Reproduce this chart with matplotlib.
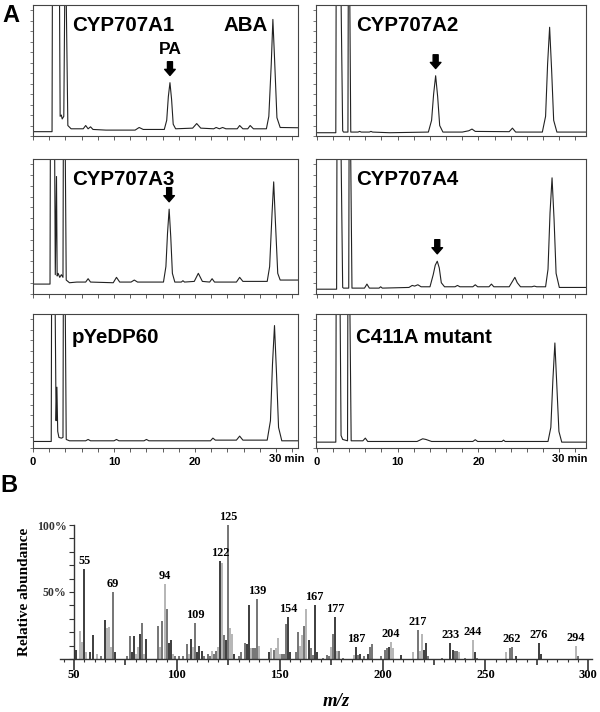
import numpy as np
import matplotlib
matplotlib.use('Agg')
import matplotlib.pyplot as plt
from matplotlib.ticker import MultipleLocator, FixedLocator

SANS = 'Liberation Sans'
SERIF = 'Liberation Serif'

# ---- Panel A: HPLC traces (retention time [min], signal [% of panel height]) ----
t1 = [0, 2.35, 2.4, 3.25, 3.35, 3.5, 3.6, 3.8, 3.95, 4.05, 4.3, 4.7, 6.2, 6.5, 6.8, 7.1, 7.4, 9.0, 12.6, 13.1,
      13.6, 16.2, 16.5, 16.7, 16.9, 17.1, 17.3, 17.6, 19.7, 20.2, 20.7, 22.3, 22.6, 23.0, 23.4, 23.8, 25.2, 25.5, 25.9, 26.5,
      26.8, 27.2, 28.8, 29.1, 29.4, 29.6, 29.8, 30.1, 30.5, 32.7]
v1 = [3.3, 3.3, 130, 130, 15, 16, 13, 15, 130, 130, 8, 5.5, 5.5, 8, 5.5, 7, 5, 4.5, 4.5, 6.5,
      5, 5, 12, 30, 40.7, 28, 9, 5.5, 6, 9.5, 6, 5.5, 6.5, 5.5, 6.5, 5.5, 5.5, 8, 5.5, 5.5,
      8, 5.5, 5.5, 15, 55, 89, 60, 14, 6.5, 6.3]

t2 = [-0.2, 2.35, 2.4, 2.95, 3.2, 3.3, 3.85, 3.9, 4.05, 4.2, 5.1, 5.3, 5.5, 6.5, 6.7, 6.9, 9.0, 13.8, 14.2, 14.45,
      14.7, 14.95, 15.2, 15.6, 18.0, 18.8, 19.2, 19.6, 23.8, 24.2, 24.6, 27.9, 28.3, 28.55, 28.8, 29.05, 29.3, 29.7, 33.3]
v2 = [2.5, 2.5, 130, 130, 4, 3, 3, 130, 130, 3, 3, 3.5, 3, 3, 3.5, 3, 2.5, 3, 12, 32,
      46, 30, 8, 3, 3, 4, 5.3, 3.5, 3.3, 6, 3, 3, 15, 55, 83, 50, 12, 3, 3]

t3 = [0, 2.1, 2.15, 2.65, 2.75, 2.9, 2.98, 3.1, 3.3, 3.5, 3.7, 3.75, 3.95, 4.1, 4.5, 5.4, 6.5, 6.8, 7.1, 9.9,
      10.3, 10.7, 12.1, 12.5, 12.9, 13.8, 16.1, 16.4, 16.6, 16.8, 17.0, 17.2, 17.5, 18.3, 18.5, 18.7, 19.9, 20.4, 20.9, 21.8,
      22.1, 22.4, 25.1, 25.5, 25.9, 28.9, 29.2, 29.5, 29.7, 29.9, 30.2, 30.5, 32.7]
v3 = [7, 7, 130, 130, 14, 87, 13, 15, 12, 14, 12, 130, 130, 10, 8, 8.5, 8.5, 11, 8.5, 8,
      12, 8.5, 8.5, 10, 8.5, 8.5, 8.5, 20, 45, 62.7, 42, 15, 8.5, 8.5, 9.5, 8.5, 9, 15, 9, 8.5,
      11, 8.5, 8.5, 12, 9, 9, 20, 60, 83, 55, 15, 10, 10]

t4 = [-0.1, 2.45, 2.5, 2.95, 3.2, 3.3, 3.95, 4.0, 4.15, 4.35, 5.9, 6.2, 6.5, 7.7, 7.9, 8.1, 11.4, 11.8, 12.1, 12.5,
      12.9, 14.0, 14.4, 14.65, 14.9, 15.15, 15.4, 15.8, 17.1, 17.4, 17.7, 19.3, 19.6, 19.9, 21.3, 21.6, 21.9, 23.8, 24.2, 24.5,
      24.8, 25.2, 26.6, 26.9, 27.2, 28.3, 28.6, 28.85, 29.1, 29.35, 29.6, 30.0, 33.3]
v4 = [3.2, 3.2, 130, 130, 4.5, 4, 4, 130, 130, 4, 4, 7, 4, 4, 5, 4, 4.5, 6, 5.5, 6.5,
      5, 5, 14, 21, 24, 19, 8, 5, 5, 6, 5, 5, 6.5, 5, 5, 7, 5, 5, 9, 12,
      8, 5, 5, 5.5, 5, 5, 18, 60, 86, 55, 15, 4.5, 4.5]

t5 = [0, 2.25, 2.3, 2.7, 2.85, 2.95, 3.05, 3.2, 3.5, 3.7, 3.75, 3.95, 4.1, 4.5, 6.5, 6.8, 7.1, 10.0, 10.3, 10.6,
      13.7, 14.0, 14.3, 21.9, 22.2, 22.5, 25.1, 25.5, 25.9, 28.9, 29.3, 29.55, 29.8, 30.05, 30.3, 30.7, 32.7]
v5 = [4.5, 4.5, 130, 130, 20, 45, 12, 7.5, 7, 7.5, 130, 130, 6, 5, 5, 6, 5, 5, 6, 5,
      5, 6, 5, 5, 7, 5.5, 5.5, 8.5, 5.5, 5.5, 20, 62, 91, 55, 15, 5, 5]

t6 = [-0.1, 2.35, 2.4, 2.85, 3.0, 3.2, 3.8, 3.85, 4.05, 4.25, 5.7, 6.0, 6.3, 12.4, 13.1, 13.5, 14.2, 19.3, 19.6, 19.9,
      22.9, 23.1, 23.3, 28.6, 28.95, 29.2, 29.45, 29.7, 29.95, 30.3, 33.3]
v6 = [4, 4, 130, 130, 9, 6, 5, 130, 130, 5, 5, 7, 4.5, 4.5, 6.5, 6, 4.5, 4.5, 5.8, 4.5,
      4.5, 5.5, 4.5, 4.5, 15, 50, 78, 45, 12, 4, 4]

panel_names = ['CYP707A1', 'CYP707A2', 'CYP707A3', 'CYP707A4', 'pYeDP60', 'C411A mutant']
traces = [(t1, v1), (t2, v2), (t3, v3), (t4, v4), (t5, v5), (t6, v6)]
# PA peaks marked with arrows: (panel index, retention time, peak height)
pa_marks = [(0, 16.9, 40.7), (1, 14.7, 46), (2, 16.8, 62.7), (3, 14.9, 24)]
time_ticks = [0, 10, 20, 30]

# ---- Panel B: EI mass spectrum ----
mz = [51, 53, 54, 55, 56, 58, 59, 61, 63, 65, 66, 67, 68, 69, 70, 76, 77, 78, 79, 80,
      81, 82, 83, 84, 85, 91, 92, 93, 94, 95, 96, 97, 98, 99, 101, 103, 105, 106, 107, 108,
      109, 110, 111, 112, 113, 115, 116, 117, 118, 119, 120, 121, 122, 123, 124, 125, 126, 127, 128, 130,
      131, 133, 134, 135, 136, 137, 138, 139, 140, 145, 146, 147, 148, 149, 150, 151, 152, 153, 154, 155,
      158, 159, 160, 161, 162, 163, 164, 165, 166, 167, 168, 171, 173, 174, 175, 176, 177, 178, 179, 181,
      186, 187, 188, 189, 191, 193, 194, 195, 199, 201, 202, 203, 204, 205, 209, 215, 217, 218, 219, 220,
      221, 222, 229, 233, 234, 235, 236, 237, 240, 244, 245, 246, 260, 262, 263, 265, 276, 277, 294, 295]
rel = [7, 21, 13, 67, 5, 5, 18, 4, 2, 29, 23, 24, 9, 50, 5, 2, 17, 5, 17, 4,
       9, 19, 27, 4, 15, 25, 9, 28, 56, 37, 12, 14, 4, 2, 2, 2, 11, 4, 15, 9,
       27, 5, 10, 6, 2, 4, 2, 6, 4, 6, 9, 73, 72, 18, 14, 100, 23, 19, 4, 2,
       5, 12, 11, 40, 8, 8, 8, 45, 10, 5, 8, 7, 8, 16, 4, 4, 4, 26, 31, 5,
       5, 20, 10, 18, 25, 37, 14, 8, 3, 40, 5, 1, 3, 2, 9, 19, 31, 6, 6, 1,
       3, 9, 3, 4, 2, 4, 9, 11, 2, 7, 8, 9, 13, 8, 3, 5, 22, 6, 19, 7,
       12, 2, 1, 12, 7, 6, 6, 5, 1, 14, 5, 1, 5, 8, 9, 2, 12, 4, 10, 2]
shade = ['k', 'l', 'l', 'k', 'l', 'k', 'k', 'l', 'g', 'k', 'l', 'l', 'l', 'g', 'k', 'g', 'g', 'k', 'k', 'l',
         'l', 'k', 'g', 'l', 'k', 'g', 'l', 'g', 'l', 'g', 'k', 'k', 'l', 'g', 'g', 'g', 'g', 'l', 'k', 'l',
         'g', 'k', 'k', 'k', 'g', 'g', 'g', 'l', 'g', 'g', 'l', 'k', 'l', 'g', 'k', 'g', 'l', 'l', 'k', 'g',
         'g', 'g', 'k', 'k', 'l', 'g', 'g', 'g', 'l', 'k', 'l', 'g', 'l', 'l', 'l', 'g', 'g', 'g', 'k', 'k',
         'g', 'g', 'l', 'l', 'g', 'l', 'k', 'g', 'g', 'k', 'k', 'g', 'g', 'g', 'l', 'g', 'k', 'l', 'g', 'g',
         'l', 'k', 'g', 'k', 'g', 'k', 'g', 'g', 'g', 'g', 'g', 'k', 'l', 'l', 'k', 'l', 'g', 'l', 'l', 'k',
         'k', 'g', 'g', 'k', 'k', 'g', 'g', 'l', 'g', 'l', 'k', 'g', 'l', 'g', 'g', 'k', 'k', 'k', 'l', 'g']
peak_labels = [55, 69, 94, 109, 122, 125, 139, 154, 167, 177, 187, 204, 217, 233, 244, 262, 276, 294]

shade_colors = {'k': '#1c1c1c', 'g': '#5e5e5e', 'l': '#a9a9a9'}

fig = plt.figure(figsize=(6, 7.12), dpi=100)

col_x = [(33 / 600, 265 / 600), (316 / 600, 270 / 600)]
row_y = [(1 - 136 / 712, 131 / 712), (1 - 293.5 / 712, 134.5 / 712), (1 - 447.5 / 712, 134 / 712)]
xlims = [(0, 32.7), (-0.1, 33.3)]
name_y = [0.845, 0.845, 0.82]

axes_a = []
for i, (t, v) in enumerate(traces):
    row, col = i // 2, i % 2
    x0, w = col_x[col]
    y0, h = row_y[row]
    ax = fig.add_axes([x0, y0, w, h])
    ax.plot(t, v, color='#222222', lw=0.8)
    ax.set_xlim(*xlims[col])
    ax.set_ylim(0, 100)
    for s in ax.spines.values():
        s.set_color('#444444')
        s.set_linewidth(0.8)
    ax.xaxis.set_major_locator(FixedLocator(time_ticks))
    ax.xaxis.set_minor_locator(MultipleLocator(2))
    ax.yaxis.set_major_locator(MultipleLocator(8))
    ax.tick_params(axis='x', which='both', direction='out', length=3, width=0.6, colors='#444444')
    ax.tick_params(axis='y', which='major', direction='out', length=2, width=0.5, colors='#444444')
    ax.set_yticklabels([])
    if row == 2:
        ax.set_xticklabels(['0', '10', '20', ''], fontsize=8, fontweight='bold', family=SANS, color='black')
        ax.annotate('30 min', xy=(30, 0), xycoords=('data', 'axes fraction'), xytext=(-5, -4.5),
                    textcoords='offset points', ha='left', va='top', fontsize=8,
                    fontweight='bold', family=SANS)
    else:
        ax.set_xticklabels([])
    ax.text(0.147 if col == 0 else 0.15, name_y[row], panel_names[i], transform=ax.transAxes,
            fontsize=14.8, fontweight='bold', family=SANS, va='center', ha='left')
    axes_a.append(ax)

for idx, tt, top in pa_marks:
    axes_a[idx].annotate('', xy=(tt, top + 5.5), xytext=(tt, top + 16),
                         arrowprops=dict(arrowstyle='simple,head_length=0.55,head_width=0.95,tail_width=0.45',
                                         color='black', shrinkA=0, shrinkB=0, mutation_scale=8))
axes_a[0].text(16.9, 66, 'PA', fontsize=12.5, fontweight='bold', family=SANS, ha='center', va='center')
axes_a[0].text(0.717, 0.845, 'ABA', transform=axes_a[0].transAxes, fontsize=14.8,
               fontweight='bold', family=SANS, ha='left', va='center')

# ---- Panel B ----
axb = fig.add_axes([60 / 600, 1 - 659 / 712, 532 / 600, 134 / 712])
axb.vlines(mz, 0, rel, colors=[shade_colors[s] for s in shade], linewidth=1.2)
axb.set_xlim(43.2, 301.8)
axb.set_ylim(0, 100)
axb.spines['top'].set_visible(False)
axb.spines['right'].set_visible(False)
axb.spines['left'].set_position(('data', 50))
axb.spines['left'].set_bounds(0, 100)
axb.spines['left'].set_color('#333333')
axb.spines['bottom'].set_color('#333333')
axb.spines['left'].set_linewidth(1.0)
axb.spines['bottom'].set_linewidth(1.0)

axb.xaxis.set_major_locator(MultipleLocator(25))
axb.xaxis.set_minor_locator(MultipleLocator(5))
axb.tick_params(axis='x', which='major', direction='out', width=1.2, pad=3.5, colors='#333333')
axb.tick_params(axis='x', which='minor', direction='out', length=2, width=0.8, colors='#333333')
axb.set_xticks(np.arange(50, 301, 25))
axb.set_xticklabels([str(x) if x % 50 == 0 else '' for x in range(50, 301, 25)],
                    fontsize=9, fontweight='bold', family=SERIF, color='black')
for tk, x in zip(axb.xaxis.get_major_ticks(), range(50, 301, 25)):
    tk.tick1line.set_markersize(8 if x % 50 == 0 else 4.5)

axb.set_yticks([50, 100])
axb.set_yticklabels(['50%', '100%'], fontsize=8.5, fontweight='bold', family=SERIF, color='black')
axb.yaxis.set_minor_locator(MultipleLocator(10))
axb.tick_params(axis='y', which='both', direction='out', length=3.5, width=0.8, pad=2, colors='#333333')

mz_arr = np.array(mz)
rel_arr = np.array(rel)
for lab in peak_labels:
    near = np.abs(mz_arr - lab) <= 1
    j = np.argmax(np.where(near, rel_arr, -1))
    axb.text(mz_arr[j], rel_arr[j] + 1.5, str(lab), ha='center', va='bottom', fontsize=8.8,
             fontweight='bold', family=SERIF, clip_on=False)

fig.text(25 / 600, 1 - 592 / 712, 'Relative abundance', rotation=90, ha='center', va='center',
         fontsize=11, fontweight='bold', family=SERIF)
fig.text(336 / 600, 1 - 702 / 712, 'm/z', ha='center', va='center', fontsize=13.5,
         style='italic', fontweight='bold', family=SERIF)

fig.text(2 / 600, 1 - 16 / 712, 'A', fontsize=17, fontweight='bold', family=SANS, va='center', ha='left')
fig.text(0 / 600, 1 - 486 / 712, 'B', fontsize=17, fontweight='bold', family=SANS, va='center', ha='left')

fig.savefig('out.png', dpi=100)
